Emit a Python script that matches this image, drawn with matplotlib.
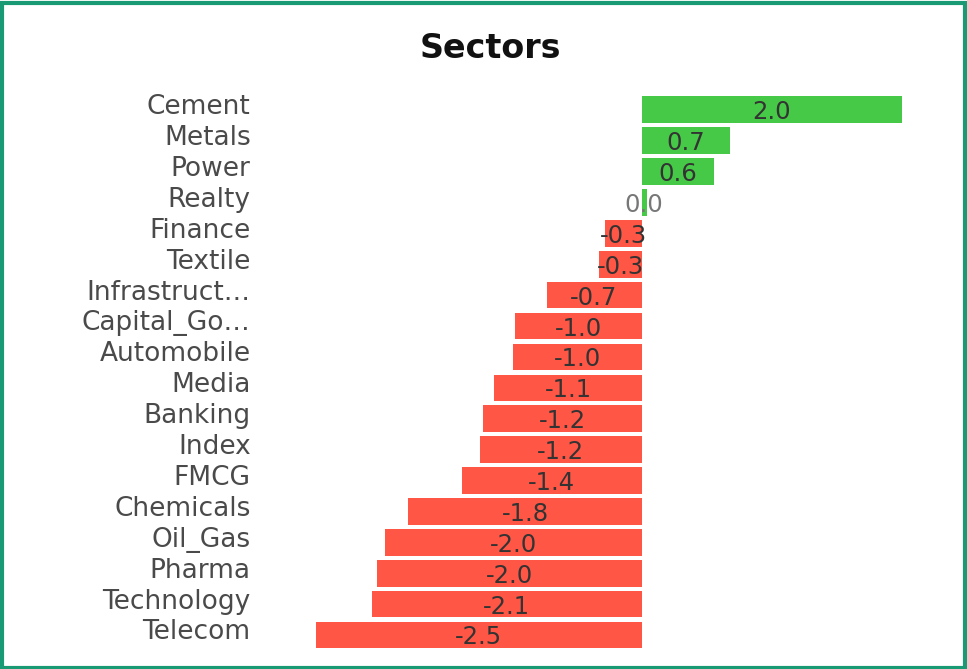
import matplotlib.pyplot as plt
from matplotlib.patches import Rectangle
from matplotlib.transforms import ScaledTranslation

sectors = ['Cement', 'Metals', 'Power', 'Realty', 'Finance', 'Textile',
           'Infrastruct…', 'Capital_Go…', 'Automobile', 'Media', 'Banking',
           'Index', 'FMCG', 'Chemicals', 'Oil_Gas', 'Pharma', 'Technology',
           'Telecom']
changes = [2.0, 0.68, 0.56, 0.04, -0.28, -0.33, -0.73, -0.97, -0.99, -1.13,
           -1.22, -1.24, -1.38, -1.79, -1.97, -2.03, -2.07, -2.5]

plt.rcParams['font.family'] = ['DejaVu Sans']

fig = plt.figure(figsize=(9.67, 6.69), dpi=100)
ax = fig.add_axes([0.3268, 0.0277, 0.606, 0.8313])

colors = ['#46c946' if v >= 0 else '#ff5645' for v in changes]
pos = list(range(len(sectors)))
bars = ax.barh(pos, changes, height=0.86, color=colors)

for bar, v in zip(bars, changes):
    cx = bar.get_x() + bar.get_width() / 2
    cy = bar.get_y() + bar.get_height() / 2
    col = '#777777' if abs(v) < 0.1 else '#333333'
    ax.text(cx, cy + 0.08, f'{v:.1f}', ha='center', va='center',
            fontsize=17.5, color=col)

ax.set_xlim(-2.5, 2.0)
ax.set_ylim(len(sectors) - 0.5, -0.5)
ax.set_yticks(pos)
ax.set_yticklabels(sectors, fontsize=19, color='#4a4a4a')
ax.tick_params(axis='y', length=0, pad=47)
# labels sit a little above the bar centres in the reference
shift = ScaledTranslation(0, 4 / 72, fig.dpi_scale_trans)
for lab in ax.get_yticklabels():
    lab.set_transform(lab.get_transform() + shift)
ax.set_xticks([])
for s in ax.spines.values():
    s.set_visible(False)

fig.text(0.507, 0.928, 'Sectors', ha='center', va='center', fontsize=24,
         fontweight='bold', color='#111111')

fig.patches.append(Rectangle((0.002, 0.002), 0.996, 0.994, transform=fig.transFigure,
                             fill=False, edgecolor='#1a9a74', linewidth=3))

plt.savefig('out.png', dpi=100)
plt.close()
